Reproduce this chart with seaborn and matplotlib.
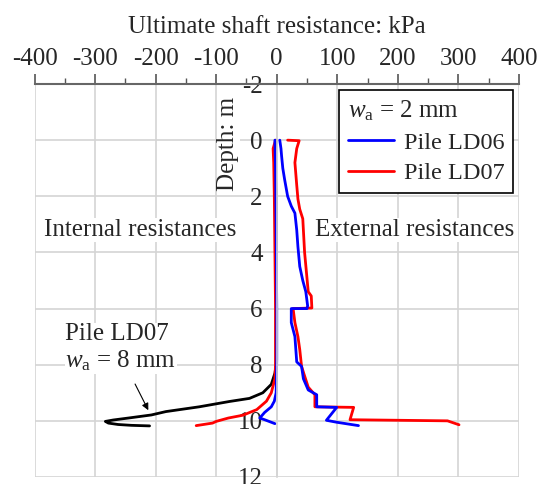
import matplotlib
matplotlib.use("Agg")
import matplotlib.pyplot as plt
import seaborn as sns
from matplotlib.ticker import MultipleLocator

# external (positive) side, w_a = 2 mm
ld06_ext_depth = [0, 0.3, 0.56, 1.0, 1.4, 2.0, 2.35, 2.6, 3.2, 3.8, 4.5, 5.0, 5.4, 5.9, 6.0, 6.0,
                  6.5, 7.0, 7.9, 8.06, 8.5, 8.9, 9.07, 9.5, 9.52, 9.98, 10.05, 10.17]
ld06_ext_kpa = [5, 7, 8, 10, 13, 18, 24, 30, 33, 35, 38, 43, 48, 51, 50, 24,
                24, 30, 33, 41, 44, 52, 66, 66, 99, 82, 99, 135]

ld07_ext_depth = [0, 0.02, 0.3, 0.8, 1.6, 2.1, 2.46, 2.8, 4.0, 4.7, 5.4, 5.55, 5.98, 6.0,
                  6.5, 7.0, 7.46, 8.06, 8.4, 8.8, 9.07, 9.5, 9.52, 9.96, 10.0, 10.14]
ld07_ext_kpa = [18, 37, 33, 30, 33, 35, 38, 43, 46, 49, 52, 57, 58, 27,
                30, 35, 38, 41, 46, 52, 63, 63, 127, 121, 282, 301]

# internal (negative) side
ld06_int_depth = [0, 1, 3, 6, 7.8, 9.0, 9.3, 9.5, 9.7, 9.9, 9.96, 10.1]
ld06_int_kpa = [-3, -2, -1, 0, 0, -1, -4, -9, -20, -28, -20, -3]

ld07_int_depth = [0, 0.3, 0.8, 2, 4, 6, 8, 8.5, 9.0, 9.3, 9.6, 9.8, 9.9, 10.02, 10.08, 10.17]
ld07_int_kpa = [-2, -6, -5, -4, -3, -2, -2, -3, -9, -17, -33, -56, -80, -100, -106, -133]

ld07_8mm_depth = [0, 0.4, 2, 6, 8, 8.3, 8.7, 9.0, 9.2, 9.31, 9.5, 9.67, 9.79, 9.9,
                  9.97, 10.02, 10.08, 10.13, 10.16, 10.18]
ld07_8mm_kpa = [-1, -3, -1, -1, -1, -3, -9, -23, -45, -78, -128, -183, -207, -245,
                -270, -283, -278, -262, -240, -210]

sns.set_style("white")
plt.rcParams["font.family"] = ["Liberation Serif", "DejaVu Serif"]
plt.rcParams["mathtext.fontset"] = "custom"
plt.rcParams["mathtext.rm"] = "Liberation Serif"
plt.rcParams["mathtext.it"] = "Liberation Serif:italic"
plt.rcParams["axes.unicode_minus"] = False

fig, ax = plt.subplots(figsize=(5.46, 4.84), dpi=100)
fig.subplots_adjust(left=0.0632, right=0.9505, bottom=0.0145, top=0.8264)

lw = 2
sns.lineplot(x=ld07_8mm_kpa, y=ld07_8mm_depth, sort=False, estimator=None, color="black", lw=lw, ax=ax)
sns.lineplot(x=ld07_int_kpa, y=ld07_int_depth, sort=False, estimator=None, color="red", lw=lw, ax=ax)
sns.lineplot(x=ld06_int_kpa, y=ld06_int_depth, sort=False, estimator=None, color="blue", lw=lw, ax=ax)
sns.lineplot(x=ld07_ext_kpa, y=ld07_ext_depth, sort=False, estimator=None, color="red", lw=lw, ax=ax,
             label="Pile LD07")
sns.lineplot(x=ld06_ext_kpa, y=ld06_ext_depth, sort=False, estimator=None, color="blue", lw=lw, ax=ax,
             label="Pile LD06")

ax.set_xlim(-400, 400)
ax.set_ylim(12, -2)
ax.set_xticks(range(-400, 401, 100))
ax.set_yticks(range(-2, 13, 2))
ax.xaxis.set_minor_locator(MultipleLocator(50))
ax.yaxis.set_minor_locator(MultipleLocator(1))
ax.grid(True, which="major", color="#d4d4d4", lw=1.2)
ax.set_axisbelow(True)

ax.xaxis.tick_top()
ax.xaxis.set_label_position("top")
ax.set_xlabel("Ultimate shaft resistance: kPa", fontsize=18, labelpad=11)
ax.set_ylabel("")
ax.tick_params(axis="x", which="major", direction="out", length=7, width=1.2, color="#555555",
               labelsize=18, pad=3)
ax.tick_params(axis="x", which="minor", direction="out", length=4, width=1.0, color="#555555")
ax.tick_params(axis="y", which="major", direction="in", length=4, width=1.0, color="#777777",
               labelsize=18, pad=10)
ax.tick_params(axis="y", which="minor", direction="in", length=3, width=1.0, color="#aaaaaa")

for s in ["right", "bottom"]:
    ax.spines[s].set_visible(False)
ax.spines["top"].set_color("#666666")
ax.spines["top"].set_linewidth(1.5)
ax.spines["left"].set_position(("data", 0))
ax.spines["left"].set_color("#d4d4d4")
ax.spines["left"].set_linewidth(1.2)

white = dict(facecolor="white", edgecolor="none", pad=0.5)
ax.text(-80, 0.15, "Depth: m", rotation=90, ha="center", va="center", fontsize=18, bbox=white)
ax.text(-226, 3.2, "Internal resistances", ha="center", va="center", fontsize=18, bbox=white)
ax.text(228, 3.2, "External resistances", ha="center", va="center", fontsize=18, bbox=white)
ax.text(-349, 7.4, "Pile LD07\n$w_\\mathrm{a}$ = 8 mm", ha="left", va="center", fontsize=18,
        bbox=white)
ax.annotate("", xy=(-210, 9.71), xytext=(-236, 8.6),
            arrowprops=dict(arrowstyle="-|>", color="black", lw=0.8, mutation_scale=10))

handles, labels = ax.get_legend_handles_labels()
leg = ax.legend(handles[::-1], labels[::-1], title="$w_\\mathrm{a}$ = 2 mm", loc="upper right",
                frameon=True, fancybox=False, edgecolor="black", framealpha=1, fontsize=17.5,
                title_fontsize=18, alignment="left", borderaxespad=0.25, handlelength=1.9,
                handletextpad=0.4, borderpad=0.35, labelspacing=0.35)
leg.get_frame().set_linewidth(1.2)

fig.savefig("out.png", dpi=100)
